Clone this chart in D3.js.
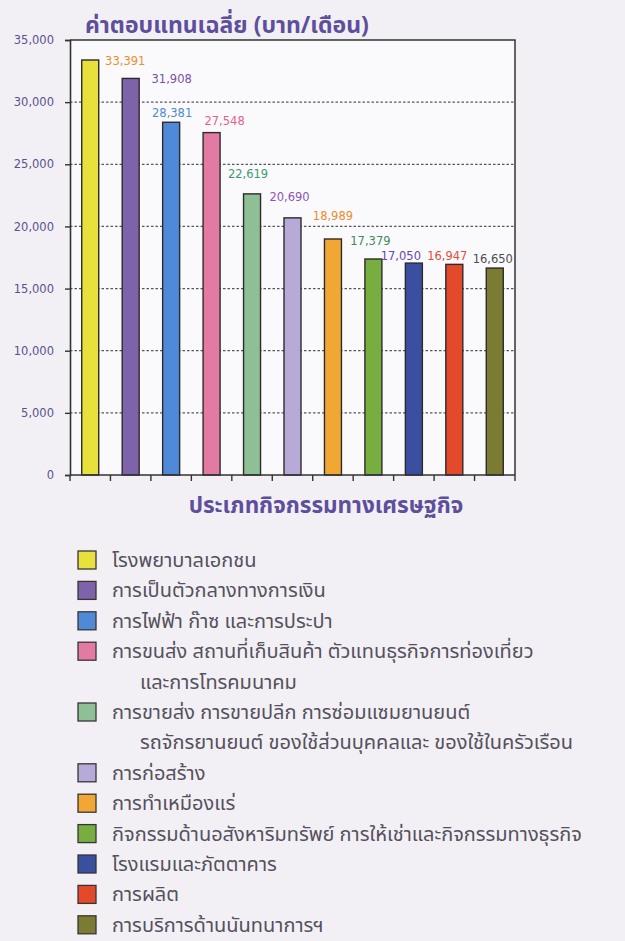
<!DOCTYPE html>
<html lang="th">
<head>
<meta charset="utf-8">
<title>ค่าตอบแทนเฉลี่ย</title>
<script src="https://cdn.jsdelivr.net/npm/d3@7"></script>
<style>
  body { margin: 0; background: #f2f0f4; }
  .thai { font-family: "Noto Sans Thai", "Noto Sans Thai UI", "Loma", "Garuda", "Tlwg Typo", "Tahoma", sans-serif; }
  .num { font-family: "DejaVu Sans", Verdana, sans-serif; }
</style>
</head>
<body>
<script>
// data
var categories = [
  "โรงพยาบาลเอกชน",
  "การเป็นตัวกลางทางการเงิน",
  "การไฟฟ้า ก๊าซ และการประปา",
  "การขนส่ง สถานที่เก็บสินค้า ตัวแทนธุรกิจการท่องเที่ยว และการโทรคมนาคม",
  "การขายส่ง การขายปลีก การซ่อมแซมยานยนต์ รถจักรยานยนต์ ของใช้ส่วนบุคคลและ ของใช้ในครัวเรือน",
  "การก่อสร้าง",
  "การทำเหมืองแร่",
  "กิจกรรมด้านอสังหาริมทรัพย์ การให้เช่าและกิจกรรมทางธุรกิจ",
  "โรงแรมและภัตตาคาร",
  "การผลิต",
  "การบริการด้านนันทนาการฯ"
];
var wages = [33391, 31908, 28381, 27548, 22619, 20690, 18989, 17379, 17050, 16947, 16650];
var yTicks = [0, 5000, 10000, 15000, 20000, 25000, 30000, 35000];
// legend lines (the two long names wrap onto a second line)
var legendLines = [
  ["โรงพยาบาลเอกชน"],
  ["การเป็นตัวกลางทางการเงิน"],
  ["การไฟฟ้า ก๊าซ และการประปา"],
  ["การขนส่ง สถานที่เก็บสินค้า ตัวแทนธุรกิจการท่องเที่ยว", "และการโทรคมนาคม"],
  ["การขายส่ง การขายปลีก การซ่อมแซมยานยนต์", "รถจักรยานยนต์ ของใช้ส่วนบุคคลและ ของใช้ในครัวเรือน"],
  ["การก่อสร้าง"],
  ["การทำเหมืองแร่"],
  ["กิจกรรมด้านอสังหาริมทรัพย์ การให้เช่าและกิจกรรมทางธุรกิจ"],
  ["โรงแรมและภัตตาคาร"],
  ["การผลิต"],
  ["การบริการด้านนันทนาการฯ"]
];

var barColors = ["#e6e13c", "#7d64aa", "#4f8ad8", "#e27aa4", "#8fbf94", "#b7a9d8",
                 "#f0a733", "#77ae3f", "#3a4f9f", "#e34a2b", "#7b7b33"];
var labelColors = ["#ec8f2c", "#7b4fa5", "#4d8bd2", "#e5628f", "#3e9a6c", "#8b56b3",
                   "#f08a2e", "#3d8c5e", "#6a46b5", "#e44c3c", "#4d4d55"];
// hand placement of the value labels, relative to the bar top centre
var labelNudge = [[35, 1], [41, 0], [1, -9], [13, -12], [-4, -20], [-3, -21],
                  [0, -23], [-3, -18], [-13, -7], [-7, -9], [-2, -9]];

var W = 625, H = 941;
var plot = {left: 70, right: 515, top: 40, bottom: 475};

var svg = d3.select("body").append("svg").attr("width", W).attr("height", H);

svg.append("rect").attr("width", W).attr("height", H).attr("fill", "#f2f0f4");
svg.append("rect")
  .attr("x", plot.left).attr("y", plot.top)
  .attr("width", plot.right - plot.left).attr("height", plot.bottom - plot.top)
  .attr("fill", "#fafafd");

var x = d3.scaleBand().domain(d3.range(wages.length)).range([plot.left, plot.right]).paddingInner(0.58).paddingOuter(0.29);
var y = d3.scaleLinear().domain([0, 35000]).range([plot.bottom, plot.top]);

// dotted gridlines
svg.append("g").selectAll("line")
  .data(yTicks.filter(function(d){ return d > 0 && d < 35000; }))
  .enter().append("line")
  .attr("x1", plot.left).attr("x2", plot.right)
  .attr("y1", function(d){ return y(d); }).attr("y2", function(d){ return y(d); })
  .attr("stroke", "#55555f").attr("stroke-width", 1.3).attr("stroke-dasharray", "2.5,2");

// bars
svg.append("g").selectAll("rect")
  .data(wages).enter().append("rect")
  .attr("x", function(d, i){ return x(i); })
  .attr("y", function(d){ return y(d); })
  .attr("width", x.bandwidth())
  .attr("height", function(d){ return y(0) - y(d); })
  .attr("fill", function(d, i){ return barColors[i]; })
  .attr("stroke", "#2f2a2a").attr("stroke-width", 1.4);

// value labels
svg.append("g").selectAll("text")
  .data(wages).enter().append("text")
  .attr("class", "num")
  .attr("x", function(d, i){ return x(i) + x.bandwidth() / 2 + labelNudge[i][0]; })
  .attr("y", function(d, i){ return y(d) + labelNudge[i][1]; })
  .attr("dy", "0.36em")
  .attr("text-anchor", "middle")
  .attr("font-size", 11.5)
  .attr("fill", function(d, i){ return labelColors[i]; })
  .text(function(d){ return d3.format(",")(d); });

// frame (top and right)
svg.append("path")
  .attr("d", "M" + plot.left + "," + plot.top + "H" + plot.right + "V" + plot.bottom)
  .attr("fill", "none").attr("stroke", "#333").attr("stroke-width", 1.5);

// y axis
var yAxis = svg.append("g").attr("transform", "translate(" + plot.left + ",0)")
  .call(d3.axisLeft(y).tickValues(yTicks).tickSize(5).tickPadding(11).tickFormat(d3.format(",")));
yAxis.select(".domain").attr("stroke", "#333").attr("stroke-width", 1.6);
yAxis.selectAll(".tick line").attr("stroke", "#333").attr("stroke-width", 1.4);
yAxis.selectAll("text").attr("class", "num").attr("font-size", 11.5).attr("fill", "#5a5290");

// x axis: ticks on the band boundaries
var bounds = d3.range(wages.length + 1).map(function(i){
  return plot.left + i * (plot.right - plot.left) / wages.length;
});
var xAxis = svg.append("g").attr("transform", "translate(0," + plot.bottom + ")");
xAxis.append("line").attr("x1", plot.left).attr("x2", plot.right)
  .attr("stroke", "#333").attr("stroke-width", 1.6);
xAxis.selectAll("line.t").data(bounds).enter().append("line").attr("class", "t")
  .attr("x1", function(d){ return d; }).attr("x2", function(d){ return d; })
  .attr("y1", 0).attr("y2", 6).attr("stroke", "#333").attr("stroke-width", 1.4);

// titles
svg.append("text").attr("class", "thai")
  .attr("x", 85).attr("y", 33)
  .attr("font-size", 23).attr("font-weight", "bold").attr("fill", "#5e4f9c")
  .text("ค่าตอบแทนเฉลี่ย (บาท/เดือน)");

svg.append("text").attr("class", "thai")
  .attr("x", 326).attr("y", 513).attr("text-anchor", "middle")
  .attr("font-size", 22.5).attr("font-weight", "bold").attr("fill", "#5e4f9c")
  .text("ประเภทกิจกรรมทางเศรษฐกิจ");

// legend
var rows = [];
legendLines.forEach(function(lines, i){
  lines.forEach(function(t, k){ rows.push({i: i, text: t, cont: k > 0}); });
});
var rowH = 30.4, row0 = 560;
var leg = svg.append("g").selectAll("g").data(rows).enter().append("g")
  .attr("transform", function(d, r){ return "translate(0," + (row0 + r * rowH) + ")"; });
leg.filter(function(d){ return !d.cont; }).append("rect")
  .attr("x", 78).attr("y", -9).attr("width", 18).attr("height", 18)
  .attr("fill", function(d){ return barColors[d.i]; })
  .attr("stroke", "#3a3535").attr("stroke-width", 1.3);
leg.append("text").attr("class", "thai")
  .attr("x", function(d){ return d.cont ? 140 : 112; })
  .attr("dy", "0.35em")
  .attr("font-size", 20).attr("fill", "#55505e")
  .text(function(d){ return d.text; });
</script>
</body>
</html>
